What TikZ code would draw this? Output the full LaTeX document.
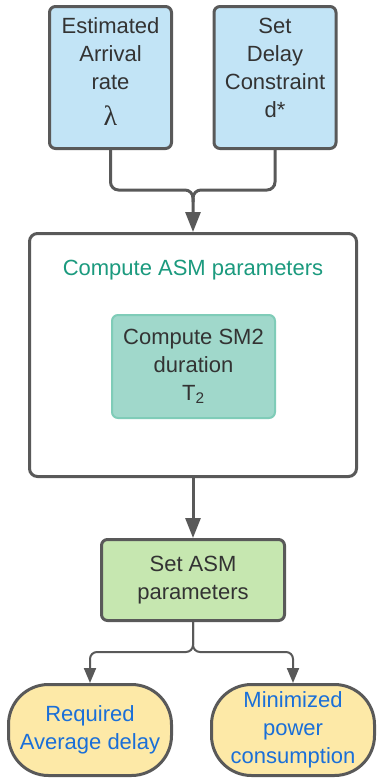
\documentclass[tikz,border=0pt]{standalone}
\usepackage{fontspec}
\setmainfont{Liberation Sans}
\newfontfamily\greekserif{Liberation Serif}
\usetikzlibrary{arrows.meta}
\definecolor{bordc}{HTML}{595959}
\definecolor{txtc}{HTML}{333333}
\definecolor{bluefill}{HTML}{C2E4F6}
\definecolor{greenfill}{HTML}{C6E7B0}
\definecolor{tealfill}{HTML}{A0D8CB}
\definecolor{tealbord}{HTML}{7FCCB8}
\definecolor{tealtxt}{HTML}{1B9A7E}
\definecolor{yelfill}{HTML}{FDE9A7}
\definecolor{bluetxt}{HTML}{1A6FD8}
\tikzset{
  base/.style={draw=bordc, line width=3pt, align=center, text=txtc, inner sep=0pt,
    font=\fontsize{22}{28}\selectfont},
  inbox/.style={base, fill=bluefill, rounded corners=6pt, minimum width=122pt, minimum height=142pt},
  bigbox/.style={base, fill=white, rounded corners=8pt, minimum width=327pt, minimum height=243pt},
  innerbox/.style={base, draw=tealbord, line width=2pt, fill=tealfill, rounded corners=6pt, minimum width=163pt, minimum height=103pt},
  setbox/.style={base, fill=greenfill, rounded corners=6pt, minimum width=183pt, minimum height=81pt},
  outbox/.style={base, fill=yelfill, rounded corners=40pt, text=bluetxt, minimum width=163pt, minimum height=91pt},
  titletxt/.style={text=tealtxt, font=\fontsize{22}{28}\selectfont, inner sep=0pt},
  conn/.style={draw=bordc, line width=3pt, rounded corners=8pt, -{Triangle[length=20pt,width=15pt]}},
  connb/.style={draw=bordc, line width=2pt, rounded corners=7pt, -{Triangle[length=15pt,width=12pt]}}
}
\begin{document}
\begin{tikzpicture}[x=1pt,y=-1pt]
\useasboundingbox (0,0) rectangle (376,780);
\node[inbox] (est) at (110.5,77.5) {\raisebox{4pt}[\height][\depth]{\begin{tabular}{@{}c@{}}Estimated\\Arrival\\rate\\[8pt]{\greekserif\fontsize{28}{28}\selectfont λ}\end{tabular}}};
\node[inbox] (set) at (275,77.5) {\raisebox{8pt}[\height][\depth]{\begin{tabular}{@{}c@{}}Set\\Delay\\Constraint\\d*\end{tabular}}};
\node[bigbox] (asm) at (193,355) {};
\node[titletxt] (ttl) at (193,270) {Compute ASM parameters};
\node[innerbox] (sm2) at (193.5,366.5) {Compute SM2\\duration\\T\textsubscript{2}};
\node[setbox] (par) at (193,580) {Set ASM\\parameters};
\node[outbox] (req) at (90,730) {Required\\Average delay};
\node[outbox] (pow) at (293,730) {Minimized\\power\\consumption};
\coordinate (j1) at (193,190);
\coordinate (j2) at (193,652);
\draw[conn] (est.south) |- (j1) -- (asm.north);
\draw[draw=bordc, line width=3pt, rounded corners=8pt] (set.south) |- (j1) -- ++(0,12);
\draw[conn] (asm.south) -- (par.north);
\draw[connb] (par.south) -- (j2) -| (req.north);
\draw[connb] (par.south) -- (j2) -| (pow.north);
\end{tikzpicture}
\end{document}
